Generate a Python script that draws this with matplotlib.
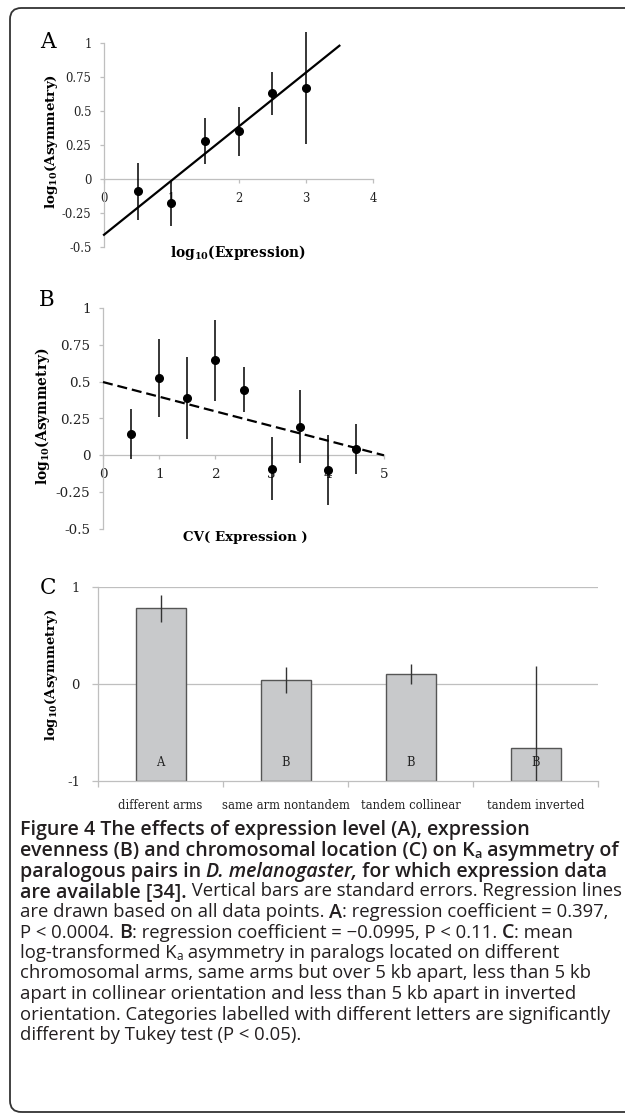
import numpy as np
import matplotlib
matplotlib.use("Agg")
import matplotlib.pyplot as plt
from matplotlib.patches import FancyBboxPatch

plt.rcParams['mathtext.fontset'] = 'custom'
plt.rcParams['mathtext.rm'] = 'DejaVu Serif'
plt.rcParams['mathtext.bf'] = 'DejaVu Serif:bold'
plt.rcParams['mathtext.it'] = 'DejaVu Serif:italic'

# panel A: expression level
expr_x = [0.5, 1.0, 1.5, 2.0, 2.5, 3.0]
expr_y = [-0.09, -0.18, 0.28, 0.35, 0.63, 0.67]
expr_err = [0.21, 0.165, 0.167, 0.18, 0.16, 0.41]
regA_x = [0.0, 3.5]
regA_y = [-0.41, 0.98]

# panel B: expression evenness
cv_x = [0.5, 1.0, 1.5, 2.0, 2.5, 3.0, 3.5, 4.0, 4.5]
cv_y = [0.147, 0.527, 0.387, 0.645, 0.446, -0.090, 0.195, -0.102, 0.043]
cv_err = [0.17, 0.265, 0.278, 0.275, 0.155, 0.215, 0.248, 0.237, 0.17]
regB_x = [0.0, 5.0]
regB_y = [0.4975, 0.0]

# panel C: chromosomal location
categories = ['different arms', 'same arm nontandem', 'tandem collinear', 'tandem inverted']
loc_mean = [0.78, 0.041, 0.106, -0.663]
loc_err = [0.14, 0.137, 0.105, 0.85]
tukey = ['A', 'B', 'B', 'B']

W, H = 625, 1115
fig = plt.figure(figsize=(W / 100, H / 100), dpi=100)

SERIF = 'DejaVu Serif'
GRAY = '#bfbfbf'


def box(x0, y0, x1, y1):
    # pixel box (top-left origin) -> figure fraction rect
    return [x0 / W, 1 - y1 / H, (x1 - x0) / W, (y1 - y0) / H]


def px(x, y):
    return x / W, 1 - y / H


def style_scatter_axes(ax, tick_size):
    for s in ['top', 'right']:
        ax.spines[s].set_visible(False)
    ax.spines['left'].set_color(GRAY)
    ax.spines['bottom'].set_color(GRAY)
    ax.spines['left'].set_linewidth(0.9)
    ax.spines['bottom'].set_linewidth(0.9)
    ax.spines['bottom'].set_position(('data', 0))
    ax.tick_params(axis='both', color=GRAY, length=3, width=0.9,
                   labelsize=tick_size, labelcolor='#222222')
    ax.tick_params(axis='y', pad=6)
    ax.tick_params(axis='x', pad=6)
    for lab in ax.get_xticklabels() + ax.get_yticklabels():
        lab.set_fontfamily(SERIF)


yticks = [-0.5, -0.25, 0, 0.25, 0.5, 0.75, 1]
ytick_labels = ['-0.5', '-0.25', '0', '0.25', '0.5', '0.75', '1']
ylab = r'log$_{\mathbf{10}}$(Asymmetry)'

# ---- panel A
axA = fig.add_axes(box(104, 43, 373, 247))
axA.set_xlim(0, 4)
axA.set_ylim(-0.5, 1)
axA.set_yticks(yticks, ytick_labels)
axA.set_xticks([0, 1, 2, 3, 4], ['0', '1', '2', '3', '4'])
style_scatter_axes(axA, 8.4)
axA.plot(regA_x, regA_y, color='black', lw=1.6, clip_on=False, zorder=3)
axA.errorbar(expr_x, expr_y, yerr=expr_err, fmt='o', color='black', ms=5.5,
             elinewidth=1.1, capsize=0, clip_on=False, zorder=4)
fig.text(*px(48, 42), 'A', fontsize=15.5, family=SERIF, ha='center', va='center')
fig.text(*px(51, 142), ylab, fontsize=9.7, family=SERIF,
         fontweight='bold', rotation=90, ha='center', va='center')
fig.text(*px(238, 253), r'log$_{\mathbf{10}}$(Expression)', fontsize=9.9, family=SERIF,
         fontweight='bold', ha='center', va='center')

# ---- panel B
axB = fig.add_axes(box(103, 308, 384, 529))
axB.set_xlim(0, 5)
axB.set_ylim(-0.5, 1)
axB.set_yticks(yticks, ytick_labels)
axB.set_xticks([0, 1, 2, 3, 4, 5], ['0', '1', '2', '3', '4', '5'])
style_scatter_axes(axB, 9.7)
axB.plot(regB_x, regB_y, color='black', lw=1.6, ls=(0, (4.5, 2.2)), clip_on=False, zorder=3)
axB.errorbar(cv_x, cv_y, yerr=cv_err, fmt='o', color='black', ms=5.5,
             elinewidth=1.1, capsize=0, clip_on=False, zorder=4)
fig.text(*px(47, 300), 'B', fontsize=15.5, family=SERIF, ha='center', va='center')
fig.text(*px(43, 416), ylab, fontsize=9.9, family=SERIF,
         fontweight='bold', rotation=90, ha='center', va='center')
fig.text(*px(245, 537), 'CV( Expression )', fontsize=9.6, family=SERIF,
         fontweight='bold', ha='center', va='center')

# ---- panel C
axC = fig.add_axes(box(98, 587, 598, 781))
xpos = np.arange(len(categories))
axC.set_xlim(-0.5, 3.5)
axC.set_ylim(-1, 1)
for yv in [0, 1]:
    axC.axhline(yv, color=GRAY, lw=0.9, zorder=0)
heights = [m + 1 for m in loc_mean]
axC.bar(xpos, heights, bottom=-1, width=0.4, color='#c8c9cb', edgecolor='#555555',
        linewidth=1.0, zorder=2)
axC.errorbar(xpos, loc_mean, yerr=loc_err, fmt='none', ecolor='#333333',
             elinewidth=1.0, capsize=0, zorder=3)
for xi, t in zip(xpos, tukey):
    axC.text(xi, -0.81, t, ha='center', va='center', fontsize=8.3, family=SERIF,
             color='#222222', zorder=4)
for s in ['top', 'right']:
    axC.spines[s].set_visible(False)
for s in ['left', 'bottom']:
    axC.spines[s].set_color(GRAY)
    axC.spines[s].set_linewidth(0.9)
axC.set_yticks([-1, 0, 1], ['-1', '0', '1'])
axC.set_xticks(xpos, categories)
axC.set_xticks(np.arange(-0.5, 4.0, 1.0), minor=True)
axC.tick_params(axis='x', which='major', length=0, pad=13, labelsize=8.4, labelcolor='#222222')
axC.tick_params(axis='x', which='minor', length=4, color=GRAY, width=0.9)
axC.tick_params(axis='y', length=4, color=GRAY, width=0.9, pad=9, labelsize=9.5,
                labelcolor='#222222')
for lab in axC.get_xticklabels() + axC.get_yticklabels():
    lab.set_fontfamily(SERIF)
fig.text(*px(48, 588), 'C', fontsize=15.5, family=SERIF, ha='center', va='center')
fig.text(*px(51, 675), ylab, fontsize=9.5, family=SERIF,
         fontweight='bold', rotation=90, ha='center', va='center')

# ---- caption
SANS = 'Open Sans'
size_bold, size_reg = 14.1, 13.3
cap_color = '#231f20'
B, R, BI = ('semibold', 'normal'), ('normal', 'normal'), ('semibold', 'italic')
caption = [
    [("Figure 4 The effects of expression level (A), expression", B)],
    [("evenness (B) and chromosomal location (C) on K", B), ("a", B, 'sub'), (" asymmetry of", B)],
    [("paralogous pairs in ", B), ("D. melanogaster,", BI), (" for which expression data", B)],
    [("are available [34].", B), (" Vertical bars are standard errors. Regression lines", R)],
    [("are drawn based on all data points. ", R), ("A", B), (": regression coefficient = 0.397,", R)],
    [("P < 0.0004. ", R), ("B", B), (": regression coefficient = \u22120.0995, P < 0.11. ", R),
     ("C", B), (": mean", R)],
    [("log-transformed K", R), ("a", R, 'sub'), (" asymmetry in paralogs located on different", R)],
    [("chromosomal arms, same arms but over 5 kb apart, less than 5 kb", R)],
    [("apart in collinear orientation and less than 5 kb apart in inverted", R)],
    [("orientation. Categories labelled with different letters are significantly", R)],
    [("different by Tukey test (P < 0.05).", R)],
]
renderer = fig.canvas.get_renderer()
y0, dy = 828, 20.5
for i, line in enumerate(caption):
    xcur = 20
    ycen = y0 + i * dy
    for seg in line:
        txt, (wt, st) = seg[0], seg[1]
        sub = len(seg) > 2
        size = size_reg if wt == 'normal' else size_bold
        if sub:
            size *= 0.65
        yy = ycen + (4 if sub else 0)
        t = fig.text(*px(xcur, yy), txt, fontsize=size, family=SANS, fontweight=wt,
                     fontstyle=st, color=cap_color, ha='left', va='center_baseline')
        bb = t.get_window_extent(renderer)
        xcur += bb.width

# ---- outer frame
frame = FancyBboxPatch((10 / W, 1 - 1112 / H), 700 / W, 1104 / H,
                       boxstyle='round,pad=0,rounding_size=0.018',
                       transform=fig.transFigure, fill=False, edgecolor='#333333',
                       linewidth=1.3, mutation_aspect=W / H)
fig.patches.append(frame)

fig.savefig('out.png', dpi=100)
